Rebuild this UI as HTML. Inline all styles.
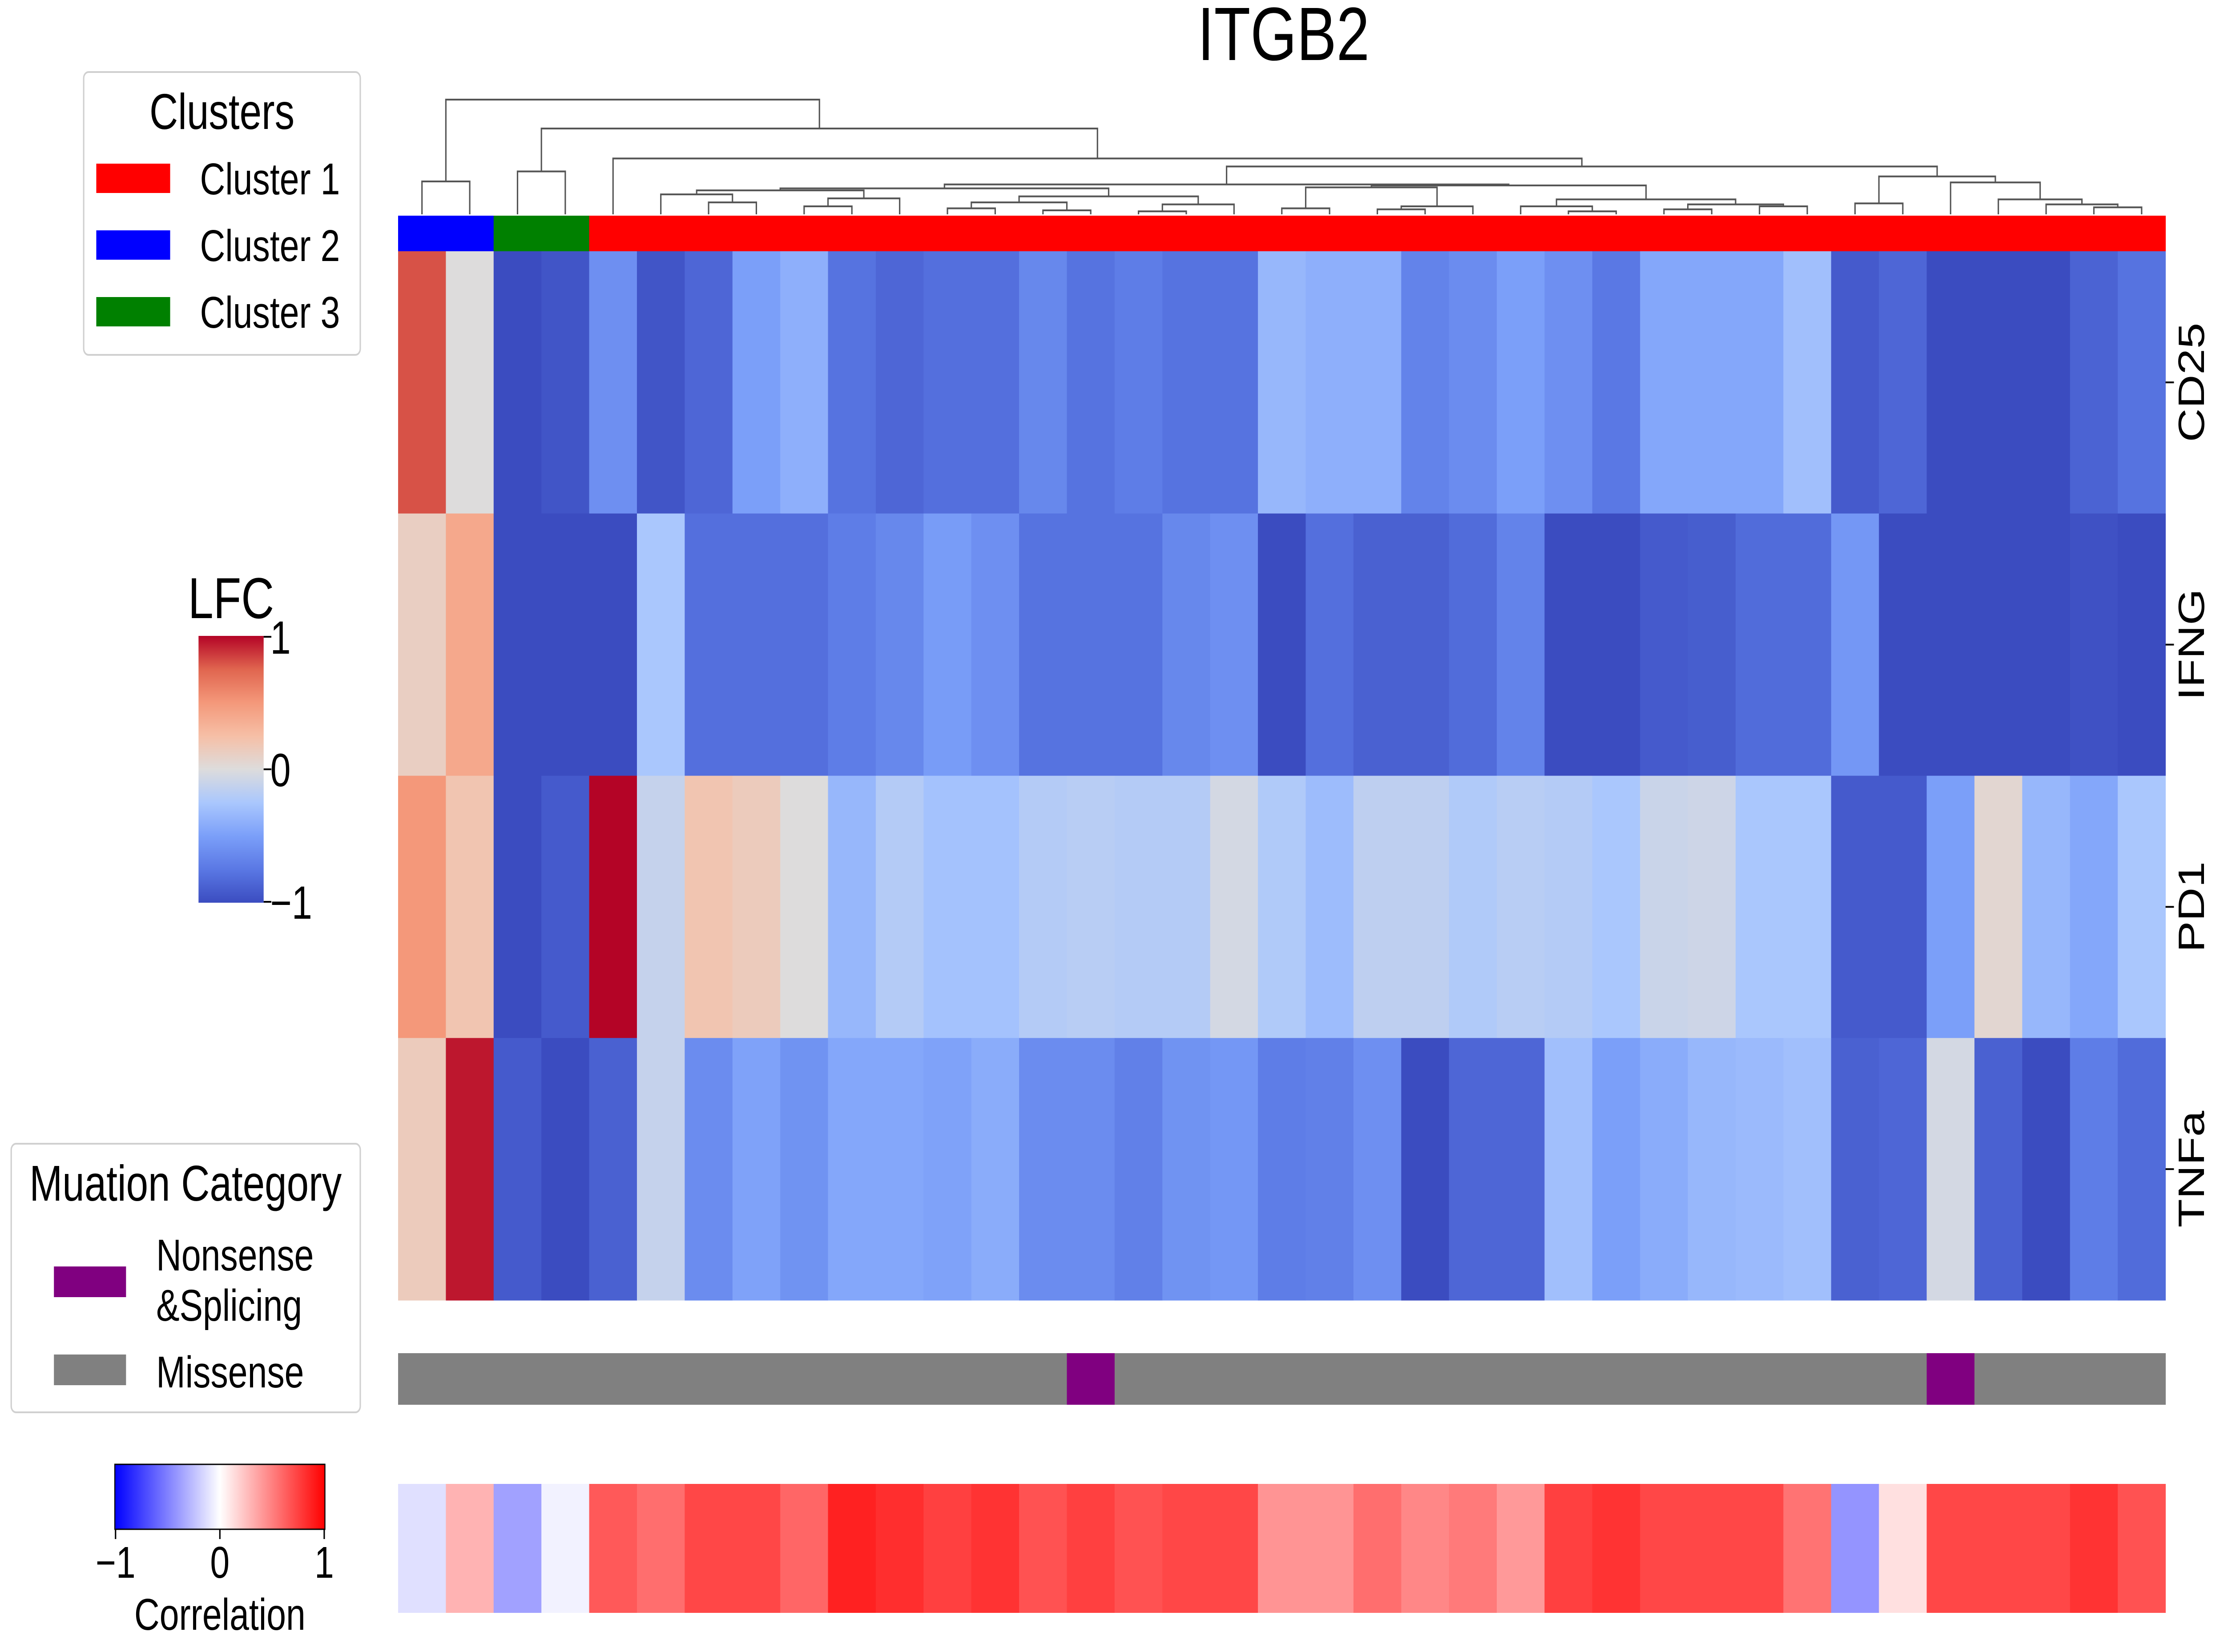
<!DOCTYPE html>
<html><head><meta charset="utf-8"><style>
html,body{margin:0;padding:0;background:#fff;overflow:hidden}
svg{display:block;width:100vw;height:100vh;font-family:"Liberation Sans",sans-serif}
</style></head><body>
<svg id="chart" xmlns="http://www.w3.org/2000/svg" viewBox="0 0 6352 3715" preserveAspectRatio="none">
<defs>
<linearGradient id="lfcGrad" x1="0" y1="1" x2="0" y2="0">
<stop offset="0" stop-color="#3b4cc0"/><stop offset="0.125" stop-color="#5a78e4"/><stop offset="0.25" stop-color="#7b9ff9"/><stop offset="0.375" stop-color="#aac7fd"/><stop offset="0.5" stop-color="#dddcdc"/><stop offset="0.625" stop-color="#f6bfa6"/><stop offset="0.75" stop-color="#f4987a"/><stop offset="0.875" stop-color="#e0654f"/><stop offset="1" stop-color="#b40426"/>
</linearGradient>
<linearGradient id="corrGrad" x1="0" y1="0" x2="1" y2="0">
<stop offset="0" stop-color="#0000ff"/><stop offset="0.5" stop-color="#ffffff"/><stop offset="1" stop-color="#ff0000"/>
</linearGradient>
</defs>
<text x="3666" y="135" font-size="170" text-anchor="middle">ITGB2</text>
<g id="dendro"></g>
<g id="clusterBar"></g>
<g id="heat"></g>
<g id="rowLabels"></g>
<g id="mutBar"></g>
<g id="corrBar"></g>

<g>
<rect x="239" y="162" width="790" height="636" rx="14" fill="#fff" stroke="#d0d0d0" stroke-width="4"/>
<text x="634" y="290" font-size="113" text-anchor="middle">Clusters</text>
<rect x="275" y="368" width="211" height="66" fill="#ff0000"/>
<text x="571" y="437" font-size="100">Cluster 1</text>
<rect x="275" y="518" width="211" height="66" fill="#0000ff"/>
<text x="571" y="587" font-size="100">Cluster 2</text>
<rect x="275" y="668" width="211" height="66" fill="#008000"/>
<text x="571" y="737" font-size="100">Cluster 3</text>
</g>

<g>
<text x="660" y="1390" font-size="130" text-anchor="middle">LFC</text>
<rect x="567" y="1430" width="186" height="600" fill="url(#lfcGrad)"/>
<line x1="753" y1="1432" x2="775" y2="1432" stroke="#000" stroke-width="4"/>
<line x1="753" y1="1730" x2="775" y2="1730" stroke="#000" stroke-width="4"/>
<line x1="753" y1="2028" x2="775" y2="2028" stroke="#000" stroke-width="4"/>
<text x="772" y="1470" font-size="105">1</text>
<text x="772" y="1768" font-size="105">0</text>
<text x="772" y="2066" font-size="105">−1</text>
</g>

<g>
<rect x="32" y="2572" width="997" height="604" rx="14" fill="#fff" stroke="#d0d0d0" stroke-width="4"/>
<text x="530" y="2700" font-size="113" text-anchor="middle">Muation Category</text>
<rect x="154" y="2848" width="206" height="69" fill="#800080"/>
<text x="446" y="2857" font-size="100">Nonsense</text>
<text x="446" y="2970" font-size="100">&amp;Splicing</text>
<rect x="154" y="3046" width="206" height="69" fill="#808080"/>
<text x="446" y="3120" font-size="100">Missense</text>
</g>

<g>
<rect x="328" y="3293" width="600" height="146" fill="url(#corrGrad)" stroke="#000" stroke-width="3"/>
<line x1="330" y1="3439" x2="330" y2="3461" stroke="#000" stroke-width="4"/>
<line x1="628" y1="3439" x2="628" y2="3461" stroke="#000" stroke-width="4"/>
<line x1="926" y1="3439" x2="926" y2="3461" stroke="#000" stroke-width="4"/>
<text x="330" y="3548" font-size="100" text-anchor="middle">−1</text>
<text x="628" y="3548" font-size="100" text-anchor="middle">0</text>
<text x="926" y="3548" font-size="100" text-anchor="middle">1</text>
<text x="628" y="3665" font-size="100" text-anchor="middle">Correlation</text>
</g>
</svg>
<script>
const rowNames = ["CD25","IFNG","PD1","TNFa"];
const clusters = [2,2,3,3,1,1,1,1,1,1,1,1,1,1,1,1,1,1,1,1,1,1,1,1,1,1,1,1,1,1,1,1,1,1,1,1,1];
const cd25 = [0.8,0,-1,-0.95,-0.6,-0.95,-0.85,-0.5,-0.4,-0.78,-0.85,-0.8,-0.8,-0.65,-0.78,-0.72,-0.78,-0.78,-0.35,-0.4,-0.4,-0.68,-0.62,-0.5,-0.6,-0.75,-0.45,-0.45,-0.45,-0.3,-0.92,-0.85,-1,-1,-1,-0.87,-0.78];
const ifng = [0.12,0.4,-1,-1,-1,-0.25,-0.8,-0.8,-0.8,-0.72,-0.65,-0.52,-0.6,-0.78,-0.78,-0.78,-0.65,-0.6,-1,-0.8,-0.88,-0.88,-0.82,-0.68,-1,-1,-0.92,-0.9,-0.82,-0.82,-0.55,-1,-1,-1,-1,-0.97,-1];
const pd1 = [0.5,0.2,-1,-0.92,1,-0.12,0.2,0.15,0,-0.35,-0.2,-0.28,-0.28,-0.2,-0.18,-0.2,-0.2,-0.05,-0.22,-0.32,-0.15,-0.15,-0.22,-0.18,-0.2,-0.25,-0.1,-0.08,-0.25,-0.25,-0.92,-0.92,-0.5,0.05,-0.35,-0.45,-0.25];
const tnfa = [0.15,0.95,-0.92,-1,-0.88,-0.12,-0.62,-0.48,-0.58,-0.45,-0.45,-0.48,-0.42,-0.62,-0.62,-0.7,-0.58,-0.55,-0.72,-0.7,-0.6,-1,-0.85,-0.85,-0.3,-0.5,-0.42,-0.35,-0.33,-0.3,-0.88,-0.85,-0.05,-0.88,-1,-0.72,-0.82];
const mutation = ["M","M","M","M","M","M","M","M","M","M","M","M","M","M","N","M","M","M","M","M","M","M","M","M","M","M","M","M","M","M","M","M","N","M","M","M","M"];
const correlation = [-0.12,0.3,-0.37,-0.05,0.65,0.57,0.72,0.72,0.6,0.87,0.82,0.75,0.8,0.68,0.75,0.68,0.72,0.72,0.42,0.42,0.57,0.47,0.52,0.4,0.75,0.8,0.72,0.72,0.72,0.55,-0.42,0.12,0.72,0.72,0.72,0.8,0.68];
const G1 = [[5,[6,7,12],20],[[8,9,8],10,16],24];
const G2 = [[[11,12,6],[13,14,4],12],[[15,16,3],17,10],18];
const LT = [G1,G2,26];
const R1 = [[18,19,6],[[20,21,5],22,8],27];
const R2 = [[23,[24,25,3],8],[[26,27,5],[28,29,8],10],15];
const RT = [R1,R2,29];
const FT = [LT,RT,30];
const IT = [[30,31,11],[32,[33,[34,[35,36,7],10],15],32],38];
const ET = [FT,IT,48];
const DT_ = [4,ET,56];
const BT = [[2,3,43],DT_,86];
const tree = [[0,1,33],BT,115];

const NS="http://www.w3.org/2000/svg";
const X0=1137, X1=6185, nCols=37, cw=(X1-X0)/nCols;
const HY0=565, HY1=2924, rh=(HY1-HY0)/4;
function xCol(i){return X0+i*cw;}
function lerp(a,b,t){return a+(b-a)*t;}
const cwStops=[[59,76,192],[90,120,228],[123,159,249],[170,199,253],[221,220,220],[246,191,166],[244,152,122],[224,101,79],[180,4,38]];
function coolwarm(v){const t=Math.max(0,Math.min(1,(v+1)/2))*8;const i=Math.min(7,Math.floor(t));const f=t-i;const a=cwStops[i],b=cwStops[i+1];return `rgb(${Math.round(lerp(a[0],b[0],f))},${Math.round(lerp(a[1],b[1],f))},${Math.round(lerp(a[2],b[2],f))})`;}
function bwr(v){if(v<0){const c=Math.round(255*(1+v));return `rgb(${c},${c},255)`;}const c=Math.round(255*(1-v));return `rgb(255,${c},${c})`;}
function mk(tag,attrs,parent){const e=document.createElementNS(NS,tag);for(const k in attrs)e.setAttribute(k,attrs[k]);parent.appendChild(e);return e;}

const heat=document.getElementById('heat');
const rows=[cd25,ifng,pd1,tnfa];
rows.forEach((vals,r)=>{vals.forEach((v,i)=>{
  const el=mk('rect',{x:xCol(i),y:HY0+r*rh,width:cw+0.6,height:rh+0.6,fill:coolwarm(v)},heat);
  
  
});});

const rl=document.getElementById('rowLabels');
rowNames.forEach((n,r)=>{
  const cy=HY0+(r+0.5)*rh;
  const t=mk('line',{x1:X1,y1:cy,x2:X1+24,y2:cy,stroke:'#000','stroke-width':4},rl);
  
  
  const tx=mk('text',{x:0,y:0,'font-size':105,'text-anchor':'middle',transform:`translate(6295,${cy}) rotate(-90)`},rl);
  tx.textContent=n;
  
  
});

const cb=document.getElementById('clusterBar');
const cColors={1:'#ff0000',2:'#0000ff',3:'#008000'};
clusters.forEach((c,i)=>{
  const el=mk('rect',{x:xCol(i),y:485,width:cw+0.6,height:80,fill:cColors[c]},cb);
  
  
});

const mb=document.getElementById('mutBar');
mutation.forEach((m,i)=>{
  const el=mk('rect',{x:xCol(i),y:3043,width:cw+0.6,height:116,fill:m==='N'?'#800080':'#808080'},mb);
  
  
});

const crb=document.getElementById('corrBar');
correlation.forEach((v,i)=>{
  const el=mk('rect',{x:xCol(i),y:3337,width:cw+0.6,height:290,fill:bwr(v)},crb);
  
  
});

const dg=document.getElementById('dendro');
const DB=482, DTOP=224, maxH=115;
function yH(h){return DB-(h/maxH)*(DB-DTOP);}
function draw(node){
  if(typeof node==='number') return {x:xCol(node)+cw/2,h:0};
  const a=draw(node[0]), b=draw(node[1]), h=node[2];
  const y=yH(h);
  const p=mk('path',{d:`M${a.x},${yH(a.h)} V${y} H${b.x} V${yH(b.h)}`,fill:'none',stroke:'#555','stroke-width':4},dg);
  
  
  return {x:(a.x+b.x)/2,h:h};
}
draw(tree);
</script>
</body></html>
